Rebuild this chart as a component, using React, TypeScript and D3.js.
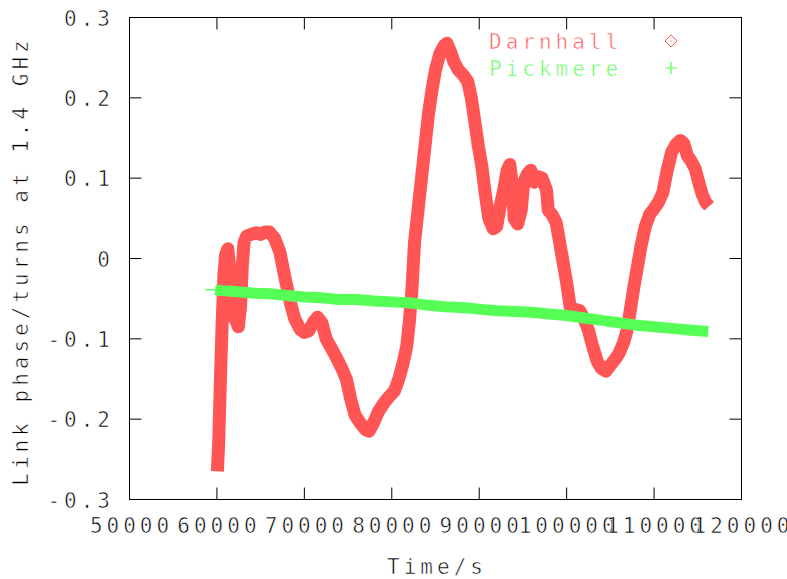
import React from "react";
import * as d3 from "d3";

// Darnhall link phase (turns at 1.4 GHz) vs time
const darnhallTime = [
  60050, 60200, 60400, 60600, 60800, 61000, 61250, 61450, 61650, 61900, 62200, 62450, 62700, 62900,
  63100, 63400, 63900, 64500, 65000, 65500, 66000, 66600, 67200, 67800, 68400, 68900, 69500, 70000,
  70500, 71000, 71500, 72000, 72500, 73000, 73600, 74200, 74800, 75300, 75800, 76400, 77000, 77400,
  77900, 78500, 79100, 79700, 80300, 80800, 81300, 81700, 82000, 82300, 82600, 83000, 83400, 83800,
  84200, 84600, 85000, 85500, 86000, 86300, 86700, 87100, 87600, 88200, 88700, 89100, 89500, 89900,
  90300, 90700, 91100, 91600, 92000, 92400, 92800, 93200, 93500, 93800, 94000, 94400, 94800, 95100,
  95500, 95900, 96300, 96700, 97200, 97700, 97900, 98300, 98800, 99200, 99600, 100000, 100400, 100900,
  101500, 102000, 102500, 103000, 103500, 104000, 104500, 105000, 105500, 106000, 106500, 106900,
  107300, 107700, 108100, 108500, 109000, 109500, 110000, 110500, 111000, 111500, 112000, 112500,
  113000, 113400, 113800, 114200, 114700, 115100, 115500, 115900, 116300,
];
const darnhallPhase = [
  -0.265, -0.23, -0.15, -0.08, -0.02, 0.005, 0.012, -0.01, -0.06, -0.072, -0.078, -0.085, -0.06, -0.01,
  0.02, 0.028, 0.03, 0.032, 0.03, 0.033, 0.033, 0.025, 0.008, -0.025, -0.055, -0.075, -0.088, -0.092,
  -0.09, -0.08, -0.073, -0.08, -0.1, -0.11, -0.122, -0.135, -0.15, -0.175, -0.195, -0.205, -0.213, -0.215,
  -0.205, -0.19, -0.18, -0.172, -0.165, -0.15, -0.13, -0.11, -0.08, -0.04, 0.02, 0.06, 0.1, 0.14,
  0.18, 0.21, 0.235, 0.255, 0.265, 0.268, 0.258, 0.245, 0.235, 0.228, 0.22, 0.2, 0.17, 0.14,
  0.115, 0.08, 0.05, 0.037, 0.04, 0.065, 0.085, 0.11, 0.117, 0.09, 0.05, 0.043, 0.06, 0.095,
  0.105, 0.11, 0.095, 0.102, 0.1, 0.085, 0.06, 0.055, 0.045, 0.02, -0.005, -0.03, -0.06, -0.063,
  -0.065, -0.075, -0.09, -0.11, -0.128, -0.137, -0.14, -0.133, -0.126, -0.118, -0.105, -0.09,
  -0.063, -0.035, -0.01, 0.015, 0.04, 0.055, 0.062, 0.07, 0.082, 0.11, 0.132, 0.142,
  0.147, 0.143, 0.128, 0.122, 0.112, 0.095, 0.08, 0.07, 0.065,
];

// Pickmere link phase vs time
const pickmereTime = [
  59800, 60500, 62000, 64000, 66000, 68000, 70000, 72000, 74000, 76000, 78000, 80000, 82000, 84000,
  86000, 88000, 90000, 92000, 94000, 96000, 98000, 100000, 102000, 104000, 106000, 108000, 110000,
  112000, 114000, 116200,
];
const pickmerePhase = [
  -0.039, -0.04, -0.041, -0.043, -0.044, -0.046, -0.048, -0.049, -0.051, -0.051, -0.053, -0.054, -0.055,
  -0.058, -0.06, -0.061, -0.063, -0.065, -0.066, -0.067, -0.069, -0.071, -0.074, -0.077, -0.08, -0.083,
  -0.085, -0.087, -0.089, -0.091,
];

const xTicks = [50000, 60000, 70000, 80000, 90000, 100000, 110000, 120000];
const yTicks = [-0.3, -0.2, -0.1, 0, 0.1, 0.2, 0.3];

const RED = "#ff5555";
const GREEN = "#55ff55";
const FONT = "'DejaVu Sans Mono', monospace";
const LS = 4;

export default function App() {
  const plot = { left: 129.5, right: 741.5, top: 17.5, bottom: 499.5 };
  const x = d3.scaleLinear().domain([50000, 120000]).range([plot.left, plot.right]);
  const y = d3.scaleLinear().domain([-0.3, 0.3]).range([plot.bottom, plot.top]);
  const line = d3
    .line<[number, number]>()
    .x((d) => x(d[0]))
    .y((d) => y(d[1]));

  const red = darnhallTime.map((t, i) => [t, darnhallPhase[i]] as [number, number]);
  const green = pickmereTime.map((t, i) => [t, pickmerePhase[i]] as [number, number]);
  const tick = 12;

  // thin the glyphs a little, gnuplot's vector font is hairline
  const thin = { stroke: "white", strokeWidth: 0.6 };

  return (
    <svg
      width={787}
      height={579}
      style={{ position: "absolute", left: 0, top: 0, background: "white" }}
      fontFamily={FONT}
      fontSize={21}
    >
      <path d={line(red) || ""} fill="none" stroke={RED} strokeWidth={13} strokeLinejoin="round" />
      <path
        d={line([[58700, -0.039], [59800, -0.039]]) || ""}
        fill="none"
        stroke={GREEN}
        strokeWidth={1.5}
      />
      <path d={line(green) || ""} fill="none" stroke={GREEN} strokeWidth={11} strokeLinejoin="round" />

      <rect
        x={plot.left}
        y={plot.top}
        width={plot.right - plot.left}
        height={plot.bottom - plot.top}
        fill="none"
        stroke="black"
        strokeWidth={1}
      />
      {xTicks.map((t) => (
        <g key={"x" + t}>
          <line x1={x(t)} x2={x(t)} y1={plot.bottom} y2={plot.bottom - tick} stroke="black" />
          <line x1={x(t)} x2={x(t)} y1={plot.top} y2={plot.top + tick} stroke="black" />
          <text x={x(t) + LS / 2} y={533} textAnchor="middle" letterSpacing={LS} fill="black" {...thin}>
            {t}
          </text>
        </g>
      ))}
      {yTicks.map((t) => (
        <g key={"y" + t}>
          <line x1={plot.left} x2={plot.left + tick} y1={y(t)} y2={y(t)} stroke="black" />
          <line x1={plot.right} x2={plot.right - tick} y1={y(t)} y2={y(t)} stroke="black" />
          <text x={110 + LS} y={y(t) + 8} textAnchor="end" letterSpacing={LS} fill="black" {...thin}>
            {t === 0 ? "0" : d3.format(".1f")(t).replace("−", "-")}
          </text>
        </g>
      ))}

      <text x={435 + LS / 2} y={574} textAnchor="middle" letterSpacing={LS} fill="black" {...thin}>
        Time/s
      </text>
      <text
        transform="translate(28,261) rotate(-90)"
        textAnchor="middle"
        letterSpacing={LS}
        fill="black"
        {...thin}
      >
        Link phase/turns at 1.4 GHz
      </text>

      <text x={489} y={49} letterSpacing={LS} fill={RED} {...thin}>
        Darnhall
      </text>
      <path d="M671,35 L677,41 L671,47 L665,41 Z" fill="none" stroke={RED} strokeWidth={1} />
      <rect x={670.5} y={40.5} width={1} height={1} fill={RED} />
      <text x={489} y={76} letterSpacing={LS} fill={GREEN} {...thin}>
        Pickmere
      </text>
      <path d="M665,68 L677,68 M671,62 L671,74" fill="none" stroke={GREEN} strokeWidth={1.2} />
    </svg>
  );
}
